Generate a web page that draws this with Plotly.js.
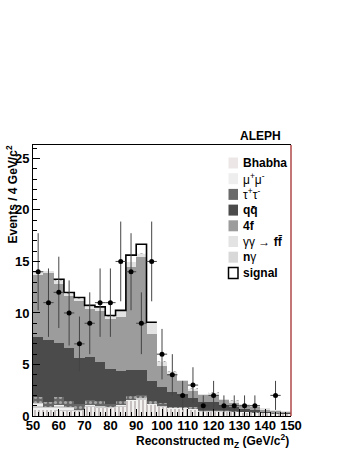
<!DOCTYPE html>
<html>
<head>
<meta charset="utf-8">
<script src="https://cdn.plot.ly/plotly-3.0.1.min.js"></script>
<style>html,body{margin:0;padding:0;background:#fff;}#chart{width:349px;height:451px;}</style>
</head>
<body>
<div id="chart"></div>
<script>
// ---- data ----
const binCenters = [52,56,60,64,68,72,76,80,84,88,92,96,100,104,108,112,116,120,124,128,132,136,140,144,148];
const bhabha = [0.55,0.55,0.5,0.5,0.5,0.85,0.8,0.75,0.9,1.5,1.6,1.1,0.9,0.65,0.65,0.6,0.4,0.4,0.4,0.35,0.3,0.25,0.25,0.2,0.15];
const mumu   = [0.75,0.35,0.55,0.4,0.1,0.2,0.15,0.15,0.15,0.1,0.1,0.1,0.1,0.1,0.1,0.1,0.1,0.1,0.05,0.05,0.05,0.05,0.03,0.02,0.02];
const tautau = [0.55,0.5,0.75,0.6,0.55,0.5,0.55,0.3,0.45,0.35,0.35,0.3,0.25,0.15,0.15,0.15,0.1,0.1,0.1,0.05,0.05,0.05,0.02,0.03,0.03];
const qqbar  = [5.79,5.98,5.26,5.07,4.45,4.15,3.7,3.35,2.9,2.55,2.45,1.9,1.55,1.4,1.2,0.85,0.8,0.8,0.52,0.45,0.25,0.23,0.1,0.05,0.05];
const fourf  = [6.01,6.47,5.74,5.03,5.6,4.65,5.0,4.85,5.2,10.0,10.9,4.6,2.05,1.75,1.25,0.7,0.6,0.64,0.48,0.4,0.32,0.26,0.18,0.19,0.11];
const gamgam = [0.3,0.22,0.35,0.25,0.2,0.2,0.25,0.25,0.55,0.4,0.35,1.0,0.4,0.25,0.15,0.25,0.14,0.23,0.1,0.19,0.2,0.13,0.16,0.09,0.09];
const ngamma = [0.04,0.05,0.05,0.04,0.05,0.05,0.04,0.05,0.05,0.06,0.05,0.05,0.04,0.03,0.03,0.03,0.02,0.02,0.02,0.02,0.02,0.02,0.02,0.02,0.02];
const signal = [0,0,0.07,0.1,0.05,0.14,0.1,0.05,0.05,0.65,0.87,0.05,0,0,0,0,0,0,0,0,0,0,0,0,0];
const dataCounts = [14,11,12,10,7,9,11,11,15,14,9,15,6,4,2,3,1,2,1,1,1,1,null,2,null];
const dataErrors = [3.74,3.32,3.46,3.16,2.65,3,3.32,3.32,3.87,3.74,3,3.87,2.45,2,1.41,1.73,1,1.41,1,1,1,1,0,1.41,0];
const legendLabels = ['<b>Bhabha</b>','μ<sup>+</sup>μ<sup>-</sup>','τ<sup>+</sup>τ<sup>-</sup>','<b>qq̄</b>','<b>4f</b>','γγ → <b>ff̄</b>','<b>n</b>γ','<b>signal</b>'];
const xTickVals = [50,60,70,80,90,100,110,120,130,140,150];
const yTickVals = [0,5,10,15,20,25];

// ---- styling ----
const FONT = 'Liberation Sans, Arial, Helvetica, sans-serif';
const binWidth = 4;
const layers = [
  {y: bhabha, color:'#f4f1f1', pattern:{shape:'|', fgcolor:'#a89f9f', bgcolor:'#f4f1f1', size:4, solidity:0.3}},
  {y: mumu,   color:'#f0f0f0', pattern:{shape:'-', fgcolor:'#b5b5b5', bgcolor:'#f0f0f0', size:4, solidity:0.3}},
  {y: tautau, color:'#666666', pattern:{shape:'.', fgcolor:'#a5a5a5', bgcolor:'#666666', size:5, solidity:0.3}},
  {y: qqbar,  color:'#4b4b4b'},
  {y: fourf,  color:'#9c9c9c'},
  {y: gamgam, color:'#e3e3e3'},
  {y: ngamma, color:'#ffffff', pattern:{shape:'\\', fgcolor:'#999999', bgcolor:'#ffffff', size:4, solidity:0.3}}
];
const swatchColors = ['#ece6e6','#eeeeee','#6a6a6a','#4b4b4b','#9c9c9c','#e3e3e3','#d8d8d8','#ffffff'];

const traces = layers.map(L => ({
  type:'bar', x: binCenters, y: L.y, width: binWidth,
  marker: Object.assign({color: L.color, line:{width:0}}, L.pattern ? {pattern: L.pattern} : {}),
  showlegend:false, hoverinfo:'skip'
}));

// signal outline on top of the stack (step line)
const sigX = [], sigY = [];
binCenters.forEach((c,i) => {
  if (signal[i] > 0) {
    const top = bhabha[i]+mumu[i]+tautau[i]+qqbar[i]+fourf[i]+gamgam[i]+ngamma[i]+signal[i];
    sigX.push(c - binWidth/2); sigY.push(top);
  }
});
{
  let last = -1; signal.forEach((s,i)=>{ if (s>0) last=i; });
  sigX.push(binCenters[last] + binWidth/2); sigY.push(sigY[sigY.length-1]);
}
traces.push({type:'scatter', mode:'lines', x:sigX, y:sigY, line:{shape:'hv', color:'#000', width:1.6}, showlegend:false, hoverinfo:'skip'});

// data points
traces.push({
  type:'scatter', mode:'markers', x: binCenters, y: dataCounts,
  marker:{color:'#000', size:5},
  error_y:{type:'data', array: dataErrors, visible:true, color:'#444', thickness:1, width:0},
  error_x:{type:'constant', value: binWidth/2, visible:true, color:'#444', thickness:1, width:0},
  showlegend:false, hoverinfo:'skip'
});

// ---- layout geometry (pixels) ----
const L0 = 33, T0 = 145, PW = 258, PH = 271;
const px = x => (x - L0)/PW;
const py = y => (T0 + PH - y)/PH;

const annotations = [
  {text:'<b>ALEPH</b>', x:px(260), y:py(136), xref:'paper', yref:'paper', showarrow:false, xanchor:'center', yanchor:'middle', font:{family:FONT, size:12, color:'#000'}},
  {text:'<b>Events / 4 GeV/c<sup>2</sup></b>', x:px(11.5), y:py(195), xref:'paper', yref:'paper', showarrow:false, textangle:-90, xanchor:'center', yanchor:'middle', font:{family:FONT, size:12, color:'#000'}},
  {text:'<b>Reconstructed m<sub>Z</sub> (GeV/c<sup>2</sup>)</b>', x:px(291), y:py(441), xref:'paper', yref:'paper', showarrow:false, xanchor:'right', yanchor:'middle', font:{family:FONT, size:12, color:'#000'}}
];
const shapes = [
  {type:'line', xref:'paper', yref:'paper', x0:1, x1:1, y0:0, y1:1, line:{color:'#b04848', width:1.5}}
];
const rowStart = 163, rowStep = 15.7;
legendLabels.forEach((lab,k) => {
  const yc = rowStart + rowStep*k;
  shapes.push({type:'rect', xref:'paper', yref:'paper', x0:px(228.5), x1:px(238), y0:py(yc+5.5), y1:py(yc-5.5),
    fillcolor: swatchColors[k], line:{color: k===7 ? '#000' : swatchColors[k], width: k===7 ? 1.5 : 0}});
  annotations.push({text: lab, x:px(240.5), y:py(yc), xref:'paper', yref:'paper', showarrow:false, xanchor:'left', yanchor:'middle',
    font:{family:FONT, size:12, color:'#000'}});
});

const layout = {
  width:349, height:451,
  margin:{l:L0, r:349-L0-PW, t:T0, b:451-T0-PH, pad:0},
  paper_bgcolor:'#fff', plot_bgcolor:'#fff',
  barmode:'stack', bargap:0,
  showlegend:false,
  font:{family:FONT, color:'#000'},
  xaxis:{range:[50,150], tickvals:xTickVals, ticktext:xTickVals.map(String), ticks:'inside', ticklen:7, tickcolor:'#000', tickwidth:1,
    ticklabelstandoff:-3,
    minor:{dtick:2, tick0:50, ticks:'inside', ticklen:4, tickcolor:'#000'},
    showgrid:false, zeroline:false, showline:true, linecolor:'#000', linewidth:1, mirror:true,
    tickfont:{family:FONT, size:13, weight:'bold', color:'#000'}, fixedrange:true},
  yaxis:{range:[0,26.3], tickvals:yTickVals, ticktext:yTickVals.map(String), ticks:'inside', ticklen:7, tickcolor:'#000', tickwidth:1,
    minor:{dtick:1, tick0:0, ticks:'inside', ticklen:4, tickcolor:'#000'},
    showgrid:false, zeroline:false, showline:true, linecolor:'#000', linewidth:1,
    tickfont:{family:FONT, size:13, weight:'bold', color:'#000'}, fixedrange:true},
  annotations, shapes
};

Plotly.newPlot('chart', traces, layout, {displayModeBar:false, staticPlot:true});
</script>
</body>
</html>
